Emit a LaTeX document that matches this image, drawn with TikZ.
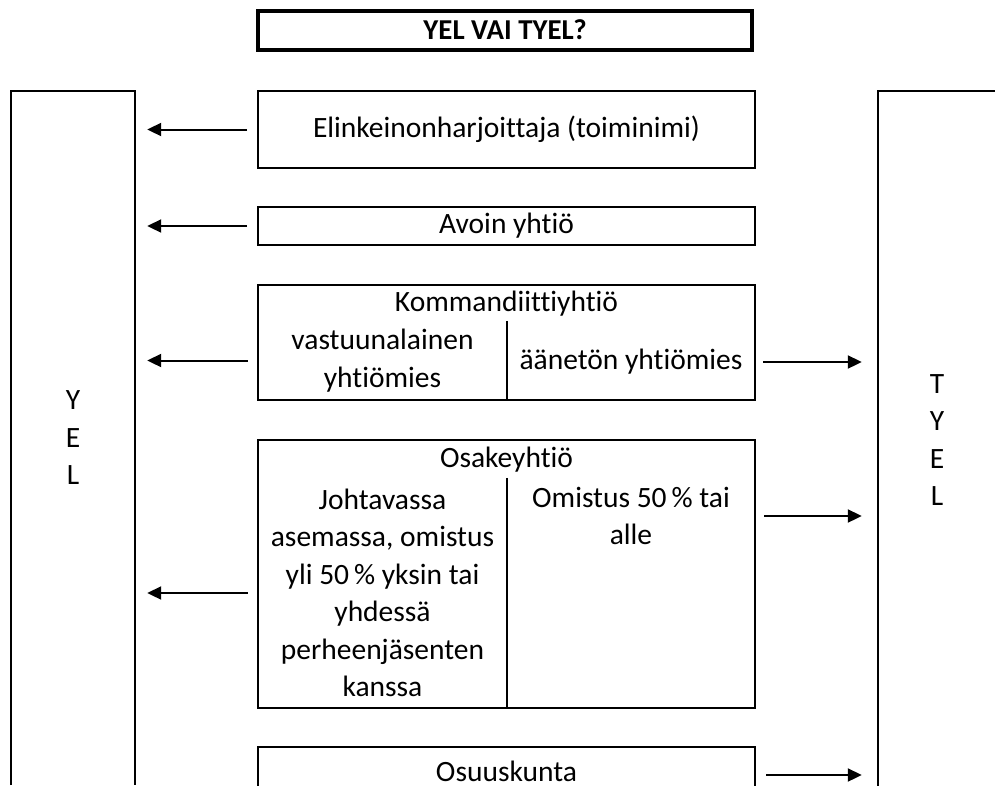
\documentclass[tikz,border=0pt]{standalone}
\usepackage{fontspec}
\setmainfont{Carlito}[Ligatures=NoCommon]
\usetikzlibrary{arrows.meta}

\tikzset{
  box/.style={draw, line width=2pt, minimum width=497pt, inner sep=0pt},
  cell/.style={inner sep=0pt, align=center},
  divider/.style={line width=2pt},
  arr/.style={line width=2pt, -{Triangle[length=14pt,width=13pt]}},
}

\begin{document}
\begin{tikzpicture}[x=1pt, y=-1pt, line join=miter,
    font=\fontsize{29.5}{37.5}\selectfont]
  \useasboundingbox (0,0) rectangle (995,785); % page box
  \clip (0,0) rectangle (995,785);

  % --- title ---
  \node[draw, line width=4pt, minimum width=494pt, minimum height=39pt, font=\fontsize{28.8}{37.5}\selectfont\bfseries] (ttl) at (505,30) {YEL VAI TYEL?};

  % --- side columns (open at the bottom) ---
  \node[cell, minimum width=124pt, minimum height=694pt] (yel) at (73,438) {Y\\E\\L};
  \draw[line width=2pt] (yel.south west) |- (yel.north east) -- (yel.south east);
  \node[cell, minimum width=118pt, minimum height=698pt] (tyel) at (937,440) {T\\Y\\E\\L};
  \draw[line width=2pt] (tyel.south west) |- (tyel.north east);

  % --- company forms ---
  \node[box, minimum height=77pt] (elink) at (506.5,129.5) {Elinkeinonharjoittaja (toiminimi)};
  \node[box, minimum height=38pt] (avoin) at (506.5,226) {Avoin yhtiö};

  \node[box, minimum height=115pt] (komm) at (506.5,342.5) {};
  \node[cell] (kommh) at (506.5,304) {Kommandiittiyhtiö};
  \node[cell, minimum width=249pt, minimum height=79pt] (kvas) at (382.5,360.5) {vastuunalainen\\yhtiömies};
  \node[cell, minimum width=248pt, minimum height=79pt] (kaan) at (631,362) {äänetön yhtiömies};
  \draw[divider] (kvas.north east) -- (kvas.south east);

  \node[box, minimum height=268pt] (osake) at (506.5,574) {};
  \node[cell] (osakeh) at (506.5,460) {Osakeyhtiö};
  \node[cell, minimum width=249pt, minimum height=230pt] (ojoht) at (382.5,593) {Johtavassa\\asemassa, omistus\\yli 50\,\% yksin tai\\yhdessä\\perheenjäsenten\\kanssa};
  \node[cell] (oalle) at (631,516) {Omistus 50\,\% tai\\alle};
  \draw[divider] (ojoht.north east) -- (ojoht.south east);

  \node[box, minimum height=48pt] (osuus) at (506.5,771) {Osuuskunta};

  % --- arrows to YEL ---
  \foreach \n in {elink,avoin,kvas,ojoht}
    \draw[arr, shorten <=10pt, shorten >=12pt] (\n.west) -- (\n.west -| yel.east);

  % --- arrows to TYEL ---
  \draw[arr, shorten <=8pt, shorten >=16pt] (kaan.east) -- (kaan.east -| tyel.west);
  \draw[arr, shorten <=8pt, shorten >=16pt] (osake.east |- oalle) -- (tyel.west |- oalle);
  \draw[arr, shorten <=10pt, shorten >=16pt] ([yshift=-4pt]osuus.east) -- ([yshift=-4pt]osuus.east -| tyel.west);
\end{tikzpicture}
\end{document}
